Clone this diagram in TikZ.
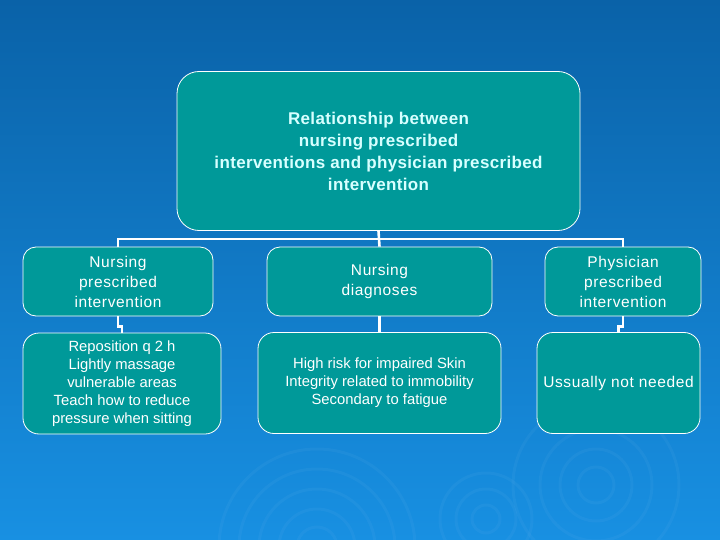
\documentclass[tikz,border=0pt]{standalone}
\usepackage{fontspec}
\setmainfont{Liberation Sans}
\newfontfamily\spaced[LetterSpace=4]{Liberation Sans}
\newfontfamily\spacedbold[LetterSpace=2]{Liberation Sans Bold}
\definecolor{bgtop}{RGB}{10,98,168}
\definecolor{bgbottom}{RGB}{24,144,226}
\definecolor{boxteal}{RGB}{0,153,153}
\definecolor{titletext}{RGB}{215,255,255}
\begin{document}
\begin{tikzpicture}[x=1pt, y=-1pt,
		box/.style = {draw=white, line width=0.8pt, fill=boxteal, text=white, align=center, inner sep=0pt},
		headbox/.style = {box, rounded corners=13pt, font=\spaced\fontsize{15.5}{20}\selectfont},
		itembox/.style = {box, rounded corners=16pt, font=\fontsize{14.8}{18}\selectfont},
		link/.style = {draw=white, line width=2.6pt}]
		
		% background and ripples
		\fill[top color=bgtop, bottom color=bgbottom] (0,0) rectangle (720,540);
		\begin{scope}
			\clip (0,0) rectangle (720,540);
			\foreach \r in {20,38,58,78,98}
				\draw[white, opacity=0.035, line width=3pt] (317,547) circle (\r);
			\foreach \r in {14,30,46}
				\draw[white, opacity=0.035, line width=3pt] (486,519) circle (\r);
			\foreach \r in {18,36,56,83}
				\draw[white, opacity=0.035, line width=3pt] (596,485) circle (\r);
		\end{scope}
		
		\node[box, rounded corners=22pt, minimum width=403pt, minimum height=159pt, text=titletext,
			font=\spacedbold\fontsize{17}{22}\selectfont] (title) at (378.5,151)
			{Relationship between\\nursing prescribed\\interventions and physician prescribed\\intervention};
		
		\node[headbox, minimum width=190pt, minimum height=69pt] (nurse) at (118,281.5)
			{Nursing\\prescribed\\intervention};
		\node[headbox, minimum width=225pt, minimum height=69pt] (diag) at (379.5,281.5)
			{Nursing\\diagnoses};
		\node[headbox, minimum width=156pt, minimum height=69pt] (phys) at (623,281.5)
			{Physician\\prescribed\\intervention};
		
		\node[itembox, minimum width=198pt, minimum height=101pt] (care) at (122,383.5)
			{Reposition q 2 h\\Lightly massage\\vulnerable areas\\Teach how to reduce\\pressure when sitting};
		\node[itembox, minimum width=243pt, minimum height=101pt] (risk) at (379.5,383)
			{High risk for impaired Skin\\Integrity related to immobility\\Secondary to fatigue};
		\node[itembox, minimum width=163pt, minimum height=101pt, font=\spaced\fontsize{15.5}{20}\selectfont] (none) at (618.5,383)
			{Ussually not needed};
		
		% connectors
		\coordinate (bus) at (379,239);
		\draw[link] (title.south) -- (bus);
		\draw[link] (nurse.north) |- (bus) -| (phys.north);
		\draw[link] (bus) -- (diag.north);
		\draw[link] (nurse.south) -- ++(0,10) -| (care.north);
		\draw[link] (diag.south) -- (risk.north);
		\draw[link] (phys.south) -- ++(0,10) -| (none.north);
\end{tikzpicture}
\end{document}
